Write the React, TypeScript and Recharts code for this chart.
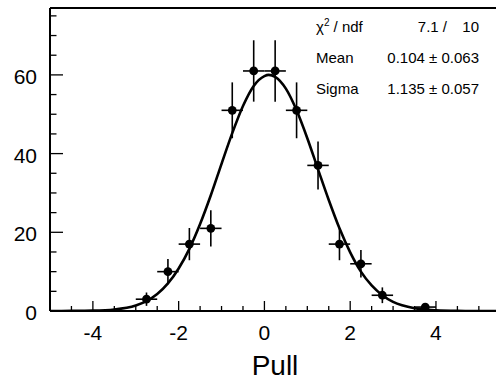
import { ComposedChart, Scatter, Line, XAxis, YAxis, ErrorBar } from "recharts";

// histogram bins (centre, entries)
const binCenters = [-2.75, -2.25, -1.75, -1.25, -0.75, -0.25, 0.25, 0.75, 1.25, 1.75, 2.25, 2.75, 3.75];
const binCounts = [3, 10, 17, 21, 51, 61, 61, 51, 37, 17, 12, 4, 1];
const binErrY = [1.7, 3.2, 4.1, 4.6, 7.1, 7.8, 7.8, 7.1, 6.1, 4.1, 3.5, 2.0, 1.0];
const binHalfWidth = [0.25, 0.25, 0.25, 0.25, 0.25, 0.25, 0.25, 0.25, 0.25, 0.25, 0.25, 0.25, 0.25];

// gaussian fit curve
const fitX = [-5, -4.5, -4, -3.5, -3, -2.75, -2.5, -2.25, -2, -1.75, -1.5, -1.25, -1, -0.75, -0.5, -0.25, 0, 0.1, 0.25, 0.5, 0.75, 1, 1.25, 1.5, 1.75, 2, 2.25, 2.5, 2.75, 3, 3.5, 4, 4.5, 5, 5.4];
const fitY = [0, 0.02, 0.09, 0.39, 1.4, 2.5, 4.3, 7.0, 10.8, 15.8, 22.1, 29.4, 37.4, 45.2, 52.1, 57.2, 59.7, 60, 59.5, 56.5, 51.0, 43.9, 36.0, 28.2, 21.0, 14.9, 10.0, 6.5, 4.0, 2.3, 0.68, 0.17, 0.03, 0, 0];

const xTicks = [-5, -4.5, -4, -3.5, -3, -2.5, -2, -1.5, -1, -0.5, 0, 0.5, 1, 1.5, 2, 2.5, 3, 3.5, 4, 4.5, 5];
const xLabels = [-4, -2, 0, 2, 4];
const yTicks = [0, 5, 10, 15, 20, 25, 30, 35, 40, 45, 50, 55, 60, 65, 70, 75];
const yLabels = [0, 20, 40, 60];

const statNames = ["χ2 / ndf", "Mean", "Sigma"];
const statValues = ["7.1 /   10", "0.104 ± 0.063", "1.135 ± 0.057"];

const points = binCenters.map((x, i) => ({ x, y: binCounts[i], ey: binErrY[i], ex: binHalfWidth[i] }));
const curve = fitX.map((x, i) => ({ x, y: fitY[i] }));

const FONT = "'Liberation Sans', Arial, Helvetica, sans-serif";

const XTick = (props: any) => {
  const { x, y, payload } = props;
  const v = payload.value;
  const major = xLabels.includes(v);
  return (
    <g>
      <line x1={x} y1={y} x2={x} y2={y - (major ? 10 : 5)} stroke="#000" strokeWidth={1.3} />
      {major && (
        <text x={x} y={y + 29} textAnchor="middle" fontSize={21} fontFamily={FONT} fill="#000">
          {v}
        </text>
      )}
    </g>
  );
};

const YTick = (props: any) => {
  const { x, y, payload } = props;
  const v = payload.value;
  const major = yLabels.includes(v);
  return (
    <g>
      <line x1={x} y1={y} x2={x + (major ? 13 : 6.5)} y2={y} stroke="#000" strokeWidth={1.3} />
      {major && (
        <text x={x - 13} y={y + 9} textAnchor="end" fontSize={21} fontFamily={FONT} fill="#000">
          {v}
        </text>
      )}
    </g>
  );
};

const Dot = (props: any) => <circle cx={props.cx} cy={props.cy} r={4.4} fill="#000" />;

export default function App() {
  return (
    <div style={{ position: "absolute", left: 0, top: 0, width: 496, height: 380, background: "#fff" }}>
      <ComposedChart width={496} height={380} margin={{ top: 7, right: 0, bottom: 0, left: 0 }}>
        <XAxis
          xAxisId="top"
          orientation="top"
          type="number"
          domain={[-5, 5.4]}
          height={1}
          tick={false}
          tickLine={false}
          axisLine={{ stroke: "#000", strokeWidth: 2 }}
        />
        <XAxis
          dataKey="x"
          type="number"
          domain={[-5, 5.4]}
          ticks={xTicks}
          interval={0}
          height={69}
          tickSize={0}
          tickMargin={0}
          tickLine={false}
          tick={<XTick />}
          axisLine={{ stroke: "#000", strokeWidth: 2 }}
          allowDataOverflow
        />
        <YAxis
          type="number"
          domain={[0, 77]}
          ticks={yTicks}
          interval={0}
          width={50}
          tickSize={0}
          tickMargin={0}
          tickLine={false}
          tick={<YTick />}
          axisLine={{ stroke: "#000", strokeWidth: 2 }}
          allowDataOverflow
        />
        <Scatter data={points} dataKey="y" shape={<Dot />} isAnimationActive={false}>
          <ErrorBar dataKey="ey" direction="y" width={0} stroke="#000" strokeWidth={1.6} />
          <ErrorBar dataKey="ex" direction="x" width={0} stroke="#000" strokeWidth={1.6} />
        </Scatter>
        <Line
          data={curve}
          dataKey="y"
          type="monotone"
          stroke="#000"
          strokeWidth={2.6}
          dot={false}
          activeDot={false}
          isAnimationActive={false}
        />
      </ComposedChart>
      <svg width={496} height={380} style={{ position: "absolute", left: 0, top: 0, pointerEvents: "none" }}>
        <g fontFamily={FONT} fontSize={15} fill="#000">
          <text x={316} y={32}>
            χ<tspan fontSize={10} dy={-6}>2</tspan>
            <tspan dy={6}> / ndf</tspan>
          </text>
          <text x={316} y={63}>{statNames[1]}</text>
          <text x={316} y={94}>{statNames[2]}</text>
          <text x={447} y={32} textAnchor="end">7.1 /</text>
          <text x={479} y={32} textAnchor="end">10</text>
          <text x={479} y={63} textAnchor="end">{statValues[1]}</text>
          <text x={479} y={94} textAnchor="end">{statValues[2]}</text>
        </g>
        <text x={275} y={375} textAnchor="middle" fontSize={28} fontFamily={FONT} fill="#000">
          Pull
        </text>
      </svg>
    </div>
  );
}
